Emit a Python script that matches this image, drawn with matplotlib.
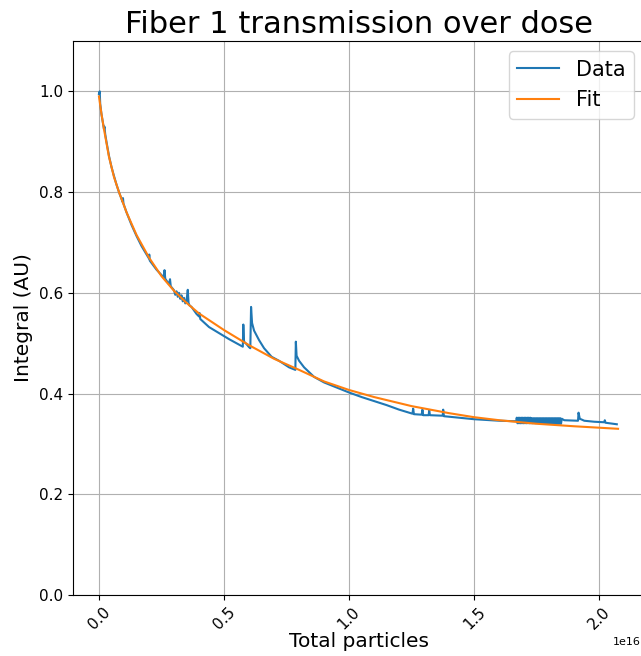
import matplotlib
matplotlib.use("Agg")
import matplotlib.pyplot as plt
import numpy as np

# Measured transmission integral vs. accumulated particles (units of 1e16)
data_x = [0.000, 0.003, 0.005, 0.010, 0.015, 0.020, 0.022, 0.025, 0.030, 0.040,
          0.050, 0.060, 0.070, 0.080, 0.095, 0.096, 0.098, 0.110, 0.130, 0.150,
          0.170, 0.200, 0.201, 0.203, 0.230, 0.260, 0.262, 0.265, 0.280, 0.284,
          0.287, 0.300, 0.305, 0.310, 0.315, 0.320, 0.325, 0.330, 0.335, 0.340,
          0.345, 0.350, 0.355, 0.358, 0.362, 0.370, 0.380, 0.390, 0.400, 0.402,
          0.405, 0.440, 0.480, 0.520, 0.560, 0.575, 0.577, 0.580, 0.590, 0.600,
          0.605, 0.608, 0.612, 0.620, 0.640, 0.660, 0.690, 0.720, 0.760, 0.785,
          0.787, 0.790, 0.800, 0.820, 0.860, 0.900, 0.960, 1.000, 1.050, 1.100,
          1.150, 1.200, 1.253, 1.256, 1.259, 1.290, 1.293, 1.296, 1.318, 1.320,
          1.323, 1.374, 1.376, 1.379, 1.420, 1.500, 1.600, 1.668]
data_y = [0.995, 1.000, 0.975, 0.955, 0.940, 0.925, 0.930, 0.915, 0.900, 0.872,
          0.850, 0.832, 0.815, 0.800, 0.780, 0.788, 0.777, 0.760, 0.735, 0.713,
          0.693, 0.668, 0.676, 0.664, 0.646, 0.630, 0.645, 0.628, 0.617, 0.627,
          0.613, 0.605, 0.596, 0.603, 0.592, 0.600, 0.588, 0.595, 0.583, 0.590,
          0.579, 0.584, 0.606, 0.580, 0.575, 0.572, 0.565, 0.558, 0.553, 0.560,
          0.548, 0.532, 0.520, 0.508, 0.497, 0.493, 0.537, 0.503, 0.498, 0.492,
          0.490, 0.572, 0.540, 0.525, 0.506, 0.490, 0.473, 0.465, 0.452, 0.447,
          0.503, 0.475, 0.465, 0.452, 0.433, 0.422, 0.410, 0.402, 0.393, 0.385,
          0.377, 0.368, 0.360, 0.370, 0.359, 0.358, 0.368, 0.357, 0.357, 0.367,
          0.357, 0.356, 0.368, 0.355, 0.353, 0.349, 0.346, 0.345]

# Noisy stretch late in the run
band_x = [1.670, 1.673, 1.676, 1.679, 1.682, 1.685, 1.688, 1.691, 1.694, 1.697,
          1.700, 1.703, 1.706, 1.709, 1.712, 1.715, 1.718, 1.721, 1.724, 1.727,
          1.730, 1.733, 1.736, 1.739, 1.742, 1.745, 1.748, 1.751, 1.754, 1.757,
          1.760, 1.763, 1.766, 1.769, 1.772, 1.775, 1.778, 1.781, 1.784, 1.787,
          1.790, 1.793, 1.796, 1.799, 1.802, 1.805, 1.808, 1.811, 1.814, 1.817,
          1.820, 1.823, 1.826, 1.829, 1.832, 1.835, 1.838, 1.841, 1.844, 1.847,
          1.850]
band_y = [0.352, 0.341, 0.352, 0.341, 0.352, 0.341, 0.352, 0.341, 0.352, 0.341,
          0.352, 0.341, 0.352, 0.341, 0.352, 0.341, 0.352, 0.341, 0.352, 0.341,
          0.351, 0.341, 0.351, 0.341, 0.351, 0.341, 0.351, 0.341, 0.351, 0.341,
          0.351, 0.341, 0.351, 0.341, 0.351, 0.341, 0.351, 0.341, 0.351, 0.341,
          0.351, 0.340, 0.351, 0.340, 0.351, 0.340, 0.351, 0.340, 0.351, 0.340,
          0.351, 0.340, 0.351, 0.340, 0.351, 0.340, 0.351, 0.340, 0.351, 0.340,
          0.350]

tail_x = [1.860, 1.915, 1.917, 1.922, 1.940, 1.980, 2.020, 2.022, 2.025, 2.070]
tail_y = [0.347, 0.346, 0.362, 0.350, 0.346, 0.344, 0.343, 0.347, 0.342, 0.339]

# Fitted decay curve
fit_x = [0.000, 0.010, 0.020, 0.040, 0.060, 0.080, 0.110, 0.150, 0.200, 0.250,
         0.300, 0.350, 0.400, 0.500, 0.600, 0.700, 0.800, 0.900, 1.000, 1.100,
         1.250, 1.400, 1.500, 1.600, 1.750, 1.900, 2.075]
fit_y = [0.990, 0.955, 0.925, 0.870, 0.830, 0.800, 0.760, 0.715, 0.670, 0.633,
         0.604, 0.580, 0.559, 0.526, 0.496, 0.469, 0.447, 0.424, 0.407, 0.393,
         0.375, 0.361, 0.353, 0.347, 0.340, 0.335, 0.330]

scale = 1e16
x_all = np.array(data_x + band_x + tail_x) * scale
y_all = np.array(data_y + band_y + tail_y)

fig = plt.figure(figsize=(6.41, 6.56), dpi=100)
ax = fig.add_axes([0.1139, 0.0930, 0.8908, 0.8445])

ax.plot(x_all, y_all, color="#1f77b4", lw=1.5, label="Data")
ax.plot(np.array(fit_x) * scale, fit_y, color="#ff7f0e", lw=1.5, label="Fit")

ax.set_ylim(0, 1.1)
ax.set_title("Fiber 1 transmission over dose", fontsize=22)
ax.set_xlabel("Total particles", fontsize=14.5, labelpad=0)
ax.set_ylabel("Integral (AU)", fontsize=14.5)
ax.tick_params(axis="both", labelsize=11)
plt.setp(ax.get_xticklabels(), rotation=45)
ax.grid(True)
ax.legend(fontsize=15, loc="upper right")

offset = ax.xaxis.get_offset_text()
offset.set_fontsize(8)
offset.set_x(0.994)

fig.savefig("out.png", dpi=100)
